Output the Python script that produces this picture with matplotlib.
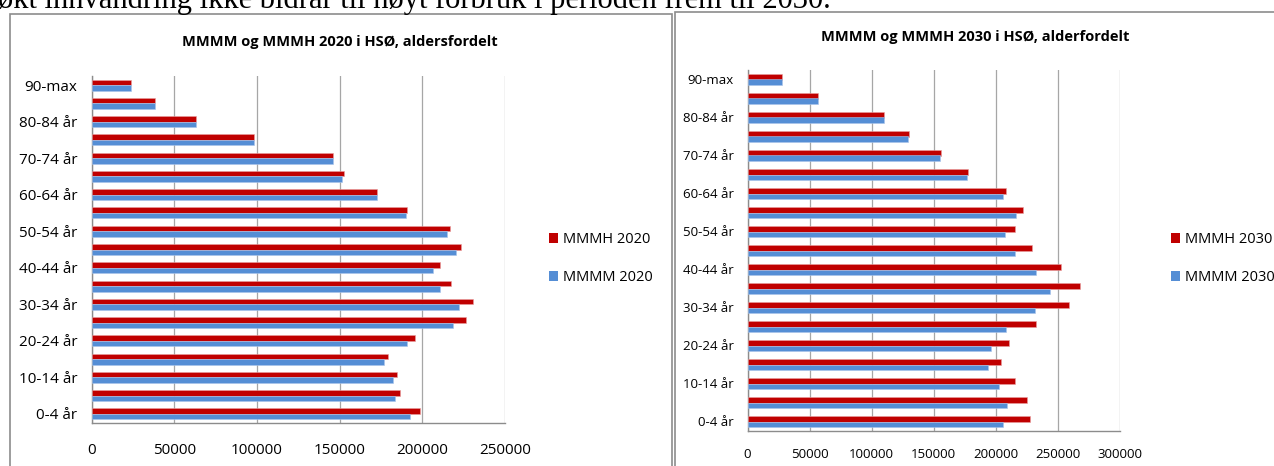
import matplotlib
matplotlib.use("Agg")
import matplotlib.pyplot as plt
from matplotlib.patches import Rectangle, Patch
import numpy as np

# Age groups, youngest first (drawn bottom to top)
age_groups = ["0-4 år", "5-9 år", "10-14 år", "15-19 år", "20-24 år", "25-29 år",
              "30-34 år", "35-39 år", "40-44 år", "45-49 år", "50-54 år", "55-59 år",
              "60-64 år", "65-69 år", "70-74 år", "75-79 år", "80-84 år", "85-89 år",
              "90-max"]

mmmm_2020 = [192600, 183700, 182400, 176600, 191000, 218700, 222100, 211000, 206300,
             220300, 214700, 190000, 172400, 151600, 146300, 98200, 62900, 38400, 23900]
mmmh_2020 = [198700, 186300, 184500, 179200, 195500, 226600, 230800, 217600, 210500,
             223400, 216800, 191000, 172900, 152400, 146300, 98200, 62900, 38400, 23900]

mmmm_2030 = [206200, 208900, 202800, 194000, 196100, 208000, 231800, 244000, 232700,
             215900, 207400, 216500, 205600, 176900, 155200, 129200, 109700, 56800, 27500]
mmmh_2030 = [227900, 225700, 215900, 204000, 211100, 232400, 259000, 268200, 252600,
             229700, 215900, 221700, 208600, 178100, 156100, 129800, 109700, 56800, 27500]

RED = "#C00000"
BLUE = "#558ED5"
GRID = "#A6A6A6"
FONT = ["Open Sans", "DejaVu Sans"]

W, H = 1274, 466
fig = plt.figure(figsize=(W / 100, H / 100), dpi=100)
fig.patch.set_facecolor("white")


def px_axes(left, top, right, bottom):
    return fig.add_axes([left / W, 1 - bottom / H, (right - left) / W, (bottom - top) / H])


# Running document text above the charts (only its lower part is on the page)
fig.text(-2 / W, 1 - 8 / H, "økt innvandring ikke bidrar til høyt forbruk i perioden frem til 2030.",
         family=["Liberation Serif", "DejaVu Serif"], fontsize=22, ha="left",
         va="baseline", color="black")

# Chart frames
fig.add_artist(Rectangle((10 / W, -0.1), (672 - 10) / W, (0.1 + 1 - 14 / H),
                         transform=fig.transFigure, fill=False, edgecolor="#8C8C8C",
                         linewidth=1.2))
fig.add_artist(Rectangle((675 / W, -0.1), (1290 - 675) / W, (0.1 + 1 - 12 / H),
                         transform=fig.transFigure, fill=False, edgecolor="#8C8C8C",
                         linewidth=1.2))


def draw_chart(ax, mmmm, mmmh, xmax, label_size, xpad, ypad):
    y = np.arange(len(age_groups))
    h = 0.3
    ax.barh(y + h / 2, mmmh, height=h, color=RED, edgecolor="#E8A0A0", linewidth=0.4,
            zorder=3)
    ax.barh(y - h / 2, mmmm, height=h, color=BLUE, edgecolor="#A9C4EA", linewidth=0.4,
            zorder=3)
    ax.set_xlim(0, xmax)
    ax.set_ylim(-0.5, len(age_groups) - 0.5)
    ticks = np.arange(0, xmax + 1, 50000)
    ax.set_xticks(ticks)
    ax.set_xticklabels([f"{int(v)}" for v in ticks], family=FONT, fontsize=label_size)
    ax.set_yticks(y[::2])
    ax.set_yticklabels(age_groups[::2], family=FONT, fontsize=label_size)
    ax.tick_params(axis="both", length=0, colors="black")
    ax.tick_params(axis="x", pad=xpad)
    ax.tick_params(axis="y", pad=ypad)
    ax.grid(axis="x", color=GRID, linewidth=0.9, zorder=0)
    ax.set_axisbelow(True)
    for s in ("top", "right"):
        ax.spines[s].set_visible(False)
    for s in ("left", "bottom"):
        ax.spines[s].set_color("#8C8C8C")
        ax.spines[s].set_linewidth(1.0)


ax1 = px_axes(91.5, 76, 505, 423)
draw_chart(ax1, mmmm_2020, mmmh_2020, 250000, 11, 14.5, 10)
ax2 = px_axes(747.6, 70, 1119.6, 431)
draw_chart(ax2, mmmm_2030, mmmh_2030, 300000, 9.5, 12.5, 10)

fig.text(340 / W, 1 - 42 / H, "MMMM og MMMH 2020 i HSØ, aldersfordelt", family=FONT,
         fontsize=10.5, fontweight="bold", ha="center", va="center")
fig.text(975 / W, 1 - 37 / H, "MMMM og MMMH 2030 i HSØ, alderfordelt", family=FONT,
         fontsize=10.5, fontweight="bold", ha="center", va="center")

for (xl, yl, yr) in [(553, 246, 2020), (1175, 246, 2030)]:
    handles = [Patch(facecolor=RED, edgecolor="none"), Patch(facecolor=BLUE, edgecolor="none")]
    fig.legend(handles, [f"MMMH {yr}", f"MMMM {yr}"], loc="upper left",
               bbox_to_anchor=((xl - 4) / W, 1 - (yl - 14) / H),
               frameon=False, handlelength=0.65, handleheight=0.65, handletextpad=0.3,
               labelspacing=1.6, borderpad=0, borderaxespad=0,
               prop={"family": FONT, "size": 10.5})

fig.savefig("out.png", dpi=100, facecolor="white")
